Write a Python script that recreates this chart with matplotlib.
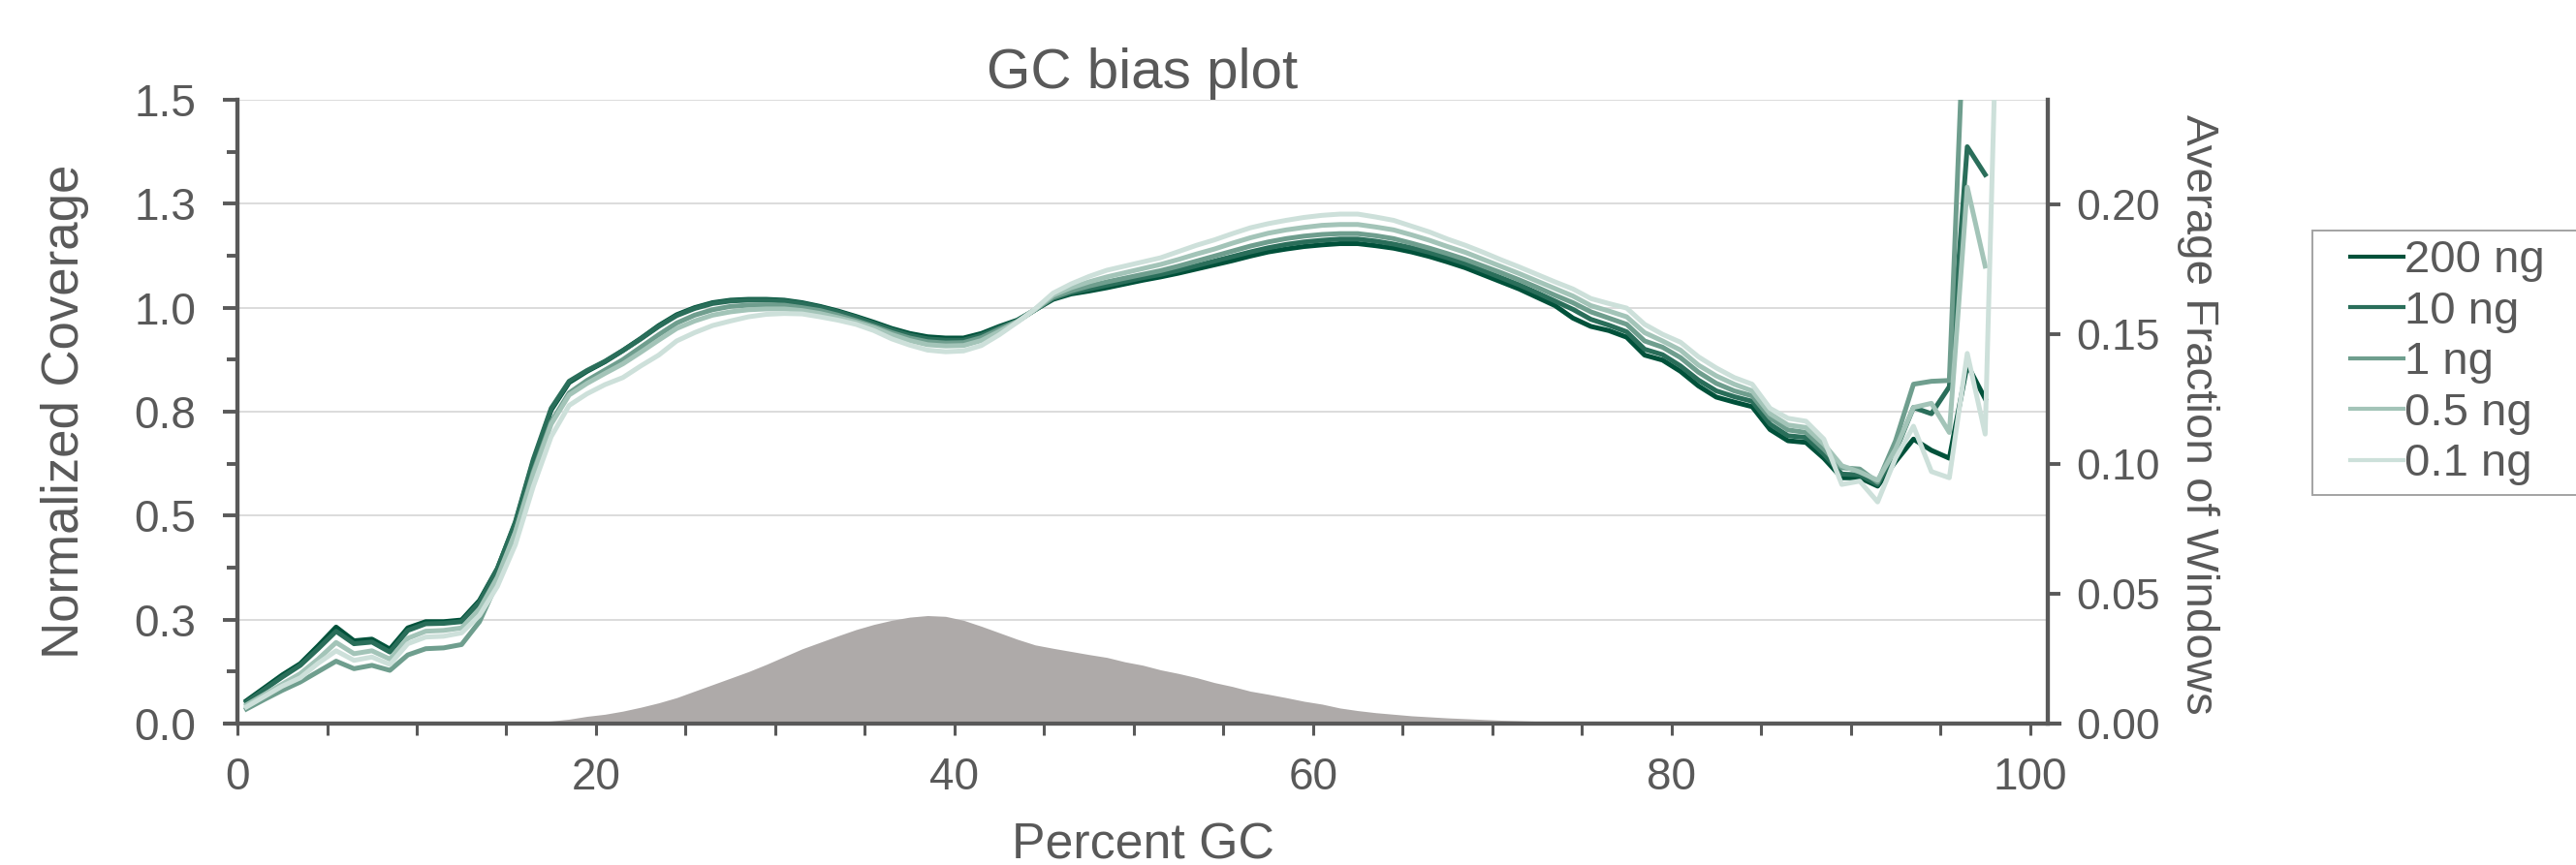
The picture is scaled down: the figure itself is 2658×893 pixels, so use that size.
import numpy as np
import matplotlib
matplotlib.use("Agg")
import matplotlib.pyplot as plt
from matplotlib.ticker import FixedLocator, MultipleLocator, FormatStrFormatter
from matplotlib.lines import Line2D
from matplotlib.legend_handler import HandlerLine2D

plt.rcParams['font.family'] = ['Liberation Sans', 'DejaVu Sans']

TEXT = '#595959'

# normalized coverage per percent-GC bin (bin 0, 1, 2, ...)
cov_200ng = [0.055, 0.086, 0.117, 0.144, 0.187, 0.232, 0.199, 0.203, 0.179, 0.230,
             0.245, 0.245, 0.249, 0.296, 0.373, 0.482, 0.630, 0.754, 0.820, 0.847,
             0.870, 0.897, 0.926, 0.957, 0.983, 1.000, 1.012, 1.018, 1.020, 1.020,
             1.018, 1.012, 1.003, 0.992, 0.979, 0.965, 0.950, 0.938, 0.930, 0.927,
             0.927, 0.938, 0.955, 0.970, 0.995, 1.020, 1.033, 1.040, 1.048, 1.057,
             1.066, 1.074, 1.083, 1.093, 1.103, 1.113, 1.124, 1.134, 1.141, 1.147,
             1.151, 1.154, 1.154, 1.149, 1.143, 1.134, 1.123, 1.110, 1.096, 1.079,
             1.062, 1.045, 1.025, 1.005, 0.975, 0.955, 0.945, 0.929, 0.886, 0.874,
             0.847, 0.812, 0.785, 0.773, 0.762, 0.707, 0.680, 0.676, 0.638, 0.591,
             0.591, 0.571, 0.630, 0.684, 0.657, 0.638, 0.863, 0.781]
cov_10ng = [0.052, 0.082, 0.112, 0.140, 0.180, 0.222, 0.192, 0.196, 0.172, 0.224,
            0.240, 0.241, 0.245, 0.292, 0.372, 0.485, 0.635, 0.758, 0.823, 0.849,
            0.871, 0.897, 0.925, 0.955, 0.981, 0.998, 1.010, 1.016, 1.018, 1.018,
            1.016, 1.010, 1.001, 0.990, 0.977, 0.962, 0.947, 0.934, 0.925, 0.922,
            0.922, 0.934, 0.952, 0.968, 0.995, 1.022, 1.036, 1.045, 1.054, 1.063,
            1.072, 1.080, 1.090, 1.101, 1.112, 1.123, 1.134, 1.144, 1.152, 1.158,
            1.162, 1.165, 1.165, 1.160, 1.153, 1.144, 1.133, 1.120, 1.106, 1.089,
            1.072, 1.055, 1.036, 1.016, 0.996, 0.972, 0.958, 0.942, 0.900, 0.887,
            0.860, 0.826, 0.800, 0.786, 0.775, 0.720, 0.692, 0.688, 0.648, 0.600,
            0.598, 0.575, 0.655, 0.760, 0.745, 0.810, 1.387, 1.320]
cov_1ng = [0.035, 0.058, 0.080, 0.100, 0.125, 0.150, 0.132, 0.140, 0.128, 0.165,
           0.180, 0.182, 0.190, 0.245, 0.340, 0.460, 0.605, 0.725, 0.795, 0.825,
           0.850, 0.875, 0.905, 0.935, 0.963, 0.982, 0.995, 1.003, 1.006, 1.007,
           1.006, 1.000, 0.993, 0.982, 0.969, 0.955, 0.940, 0.927, 0.918, 0.915,
           0.916, 0.928, 0.948, 0.967, 0.995, 1.025, 1.040, 1.052, 1.062, 1.071,
           1.080, 1.089, 1.100, 1.112, 1.124, 1.136, 1.148, 1.158, 1.166, 1.172,
           1.176, 1.178, 1.178, 1.173, 1.166, 1.155, 1.143, 1.130, 1.116, 1.100,
           1.084, 1.067, 1.049, 1.030, 1.012, 0.990, 0.975, 0.960, 0.920, 0.905,
           0.880, 0.845, 0.818, 0.800, 0.788, 0.735, 0.706, 0.700, 0.660, 0.615,
           0.612, 0.580, 0.680, 0.816, 0.823, 0.825, 1.900, 2.200]
cov_05ng = [0.045, 0.070, 0.095, 0.120, 0.155, 0.195, 0.168, 0.175, 0.155, 0.205,
            0.222, 0.224, 0.230, 0.275, 0.352, 0.460, 0.600, 0.720, 0.790, 0.818,
            0.842, 0.865, 0.893, 0.922, 0.950, 0.968, 0.982, 0.990, 0.995, 0.997,
            0.997, 0.993, 0.986, 0.976, 0.965, 0.952, 0.935, 0.921, 0.911, 0.908,
            0.909, 0.921, 0.943, 0.966, 0.996, 1.030, 1.048, 1.062, 1.074, 1.084,
            1.094, 1.104, 1.116, 1.129, 1.141, 1.155, 1.168, 1.179, 1.187, 1.193,
            1.198, 1.200, 1.200, 1.194, 1.187, 1.175, 1.162, 1.147, 1.133, 1.116,
            1.099, 1.082, 1.064, 1.046, 1.028, 1.005, 0.992, 0.978, 0.940, 0.920,
            0.898, 0.862, 0.836, 0.816, 0.800, 0.745, 0.718, 0.712, 0.672, 0.620,
            0.605, 0.585, 0.660, 0.760, 0.770, 0.700, 1.290, 1.100]
cov_01ng = [0.040, 0.065, 0.090, 0.110, 0.145, 0.175, 0.152, 0.160, 0.142, 0.192,
            0.208, 0.210, 0.218, 0.260, 0.330, 0.430, 0.570, 0.690, 0.765, 0.793,
            0.815, 0.832, 0.860, 0.886, 0.920, 0.940, 0.957, 0.968, 0.978, 0.984,
            0.986, 0.985, 0.978, 0.970, 0.960, 0.945, 0.925, 0.910, 0.898, 0.894,
            0.896, 0.909, 0.935, 0.965, 0.997, 1.035, 1.057, 1.075, 1.090, 1.100,
            1.110, 1.120, 1.135, 1.150, 1.163, 1.178, 1.192, 1.202, 1.210, 1.217,
            1.222, 1.225, 1.225, 1.218, 1.210, 1.196, 1.182, 1.165, 1.150, 1.133,
            1.115, 1.098, 1.080, 1.062, 1.045, 1.022, 1.010, 0.999, 0.960, 0.936,
            0.917, 0.882, 0.855, 0.832, 0.816, 0.758, 0.734, 0.727, 0.684, 0.575,
            0.583, 0.533, 0.638, 0.715, 0.606, 0.591, 0.890, 0.696, 2.300]

series = [cov_200ng, cov_10ng, cov_1ng, cov_05ng, cov_01ng]
labels = ['200 ng', '10 ng', '1 ng', '0.5 ng', '0.1 ng']
colors = ['#00513a', '#2a6e5a', '#6f9e8e', '#a3c4b8', '#cde0da']

# fraction of windows per GC bin (bins 0..80)
window_frac = [0, 0, 0, 0, 0, 0, 0, 0, 0, 0,
               0, 0, 0, 0, 0, 0.0002, 0.0005, 0.0010, 0.0017, 0.0028,
               0.0036, 0.0048, 0.0063, 0.0080, 0.0100, 0.0125, 0.0150, 0.0175, 0.0200, 0.0228,
               0.0258, 0.0288, 0.0313, 0.0338, 0.0362, 0.0382, 0.0398, 0.0410, 0.0416, 0.0413,
               0.0398, 0.0375, 0.0350, 0.0325, 0.0303, 0.0290, 0.0278, 0.0266, 0.0255, 0.0238,
               0.0225, 0.0207, 0.0193, 0.0177, 0.0158, 0.0143, 0.0125, 0.0113, 0.0100, 0.0086,
               0.0075, 0.0060, 0.0050, 0.0042, 0.0036, 0.0030, 0.0026, 0.0022, 0.0019, 0.0016,
               0.0013, 0.0011, 0.0009, 0.0007, 0.0006, 0.0005, 0.0003, 0.0002, 0.0001, 0,
               0]

left_ticks = [0, 0.25, 0.5, 0.75, 1.0, 1.25, 1.5]
left_ticklabels = ['0.0', '0.3', '0.5', '0.8', '1.0', '1.3', '1.5']

fig = plt.figure(figsize=(13.29, 4.465), dpi=200)
ax = fig.add_axes([0.0922, 0.1635, 0.7028, 0.7212])
ax2 = ax.twinx()

for vals, lab, col in zip(series, labels, colors):
    x = np.arange(len(vals)) + 0.5
    ax.plot(x, vals, color=col, lw=1.8, label=lab)

xw = np.arange(len(window_frac)) + 0.5
ax2.fill_between(xw, 0, window_frac, color='#aeaaa9', lw=0)

ax.set_xlim(0, 101)
ax.set_ylim(0, 1.5)
ax2.set_ylim(0, 0.2403)

ax.yaxis.set_major_locator(FixedLocator(left_ticks))
ax.set_yticklabels(left_ticklabels)
ax.yaxis.set_minor_locator(MultipleLocator(0.125))
ax.xaxis.set_major_locator(MultipleLocator(20))
ax.xaxis.set_minor_locator(MultipleLocator(5))
ax2.yaxis.set_major_locator(MultipleLocator(0.05))
ax2.yaxis.set_major_formatter(FormatStrFormatter('%.2f'))

ax.yaxis.grid(True, color='#dcdcdc', lw=0.7)
ax.set_axisbelow(True)

for a in (ax, ax2):
    a.spines['top'].set_visible(False)
    for s in ('left', 'right', 'bottom'):
        a.spines[s].set_color(TEXT)
        a.spines[s].set_linewidth(1.5)
ax.spines['bottom'].set_bounds(-0.65, 101.65)

ax.tick_params(axis='y', which='major', length=5.4, width=1.4, color=TEXT,
               labelcolor=TEXT, labelsize=16.5, pad=10)
ax.tick_params(axis='y', which='minor', length=4, width=1.4, color=TEXT)
ax.tick_params(axis='x', which='both', length=4.3, width=1.1, color=TEXT,
               labelcolor=TEXT, labelsize=16.5, pad=8)
ax2.tick_params(axis='y', length=4.7, width=1.4, color=TEXT, labelcolor=TEXT,
                labelsize=16, pad=5.8)

ax.set_title('GC bias plot', fontsize=21, color=TEXT, pad=1)
ax.set_xlabel('Percent GC', fontsize=18.7, color=TEXT, labelpad=8.5)
ax.set_ylabel('Normalized Coverage', fontsize=19, color=TEXT)
ax.yaxis.set_label_coords(-0.0819, 0.5)
ax2.set_ylabel('Average Fraction of Windows', fontsize=17.1, color=TEXT, rotation=270,
               va='center')
ax2.yaxis.set_label_coords(1.083, 0.495)

handles, labs = ax.get_legend_handles_labels()
leg = fig.legend(handles, labs, loc='upper left',
                 bbox_to_anchor=(0.8977, 0.0, 0.13, 0.7338), mode='expand',
                 fontsize=17, frameon=True, fancybox=False, handlelength=1.79,
                 handletextpad=0.02, labelspacing=0.18, borderpad=0.2,
                 borderaxespad=0, handler_map={Line2D: HandlerLine2D(xpad=0.63)})
leg.get_frame().set_edgecolor('#8c8c8c')
leg.get_frame().set_linewidth(0.7)
for t in leg.get_texts():
    t.set_color(TEXT)
for h in leg.legend_handles:
    h.set_linewidth(1.5)

fig.savefig('out.png', dpi=200)
